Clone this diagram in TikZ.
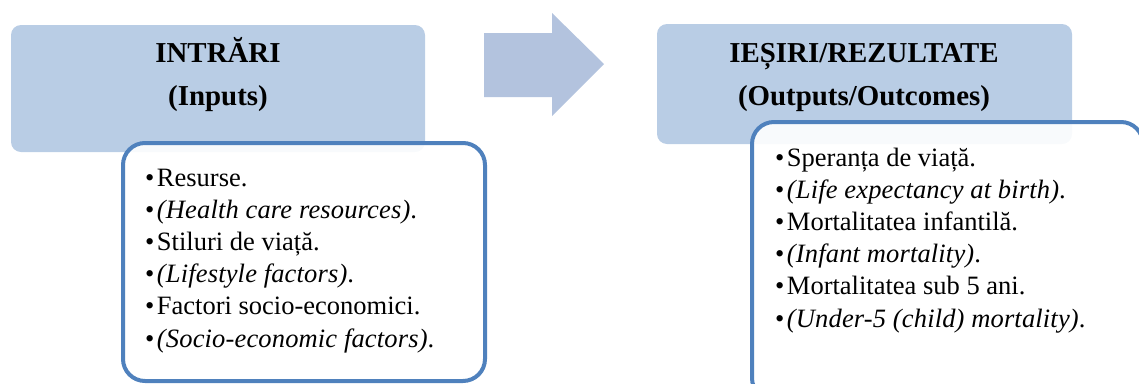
\documentclass[tikz,border=0pt]{standalone}
\usepackage{fontspec}
\setmainfont{Liberation Serif}
\definecolor{hdrfill}{RGB}{185,205,229}
\definecolor{arrowfill}{RGB}{179,195,222}
\definecolor{boxline}{RGB}{79,129,189}
\newcommand{\itsp}[1]{{\itshape\addfontfeature{LetterSpace=0.6}#1}}
\tikzset{
  hdr/.style={fill=hdrfill, draw=none, rounded corners=10bp},
  content/.style={draw=boxline, line width=4bp, fill=white, fill opacity=0.9, rounded corners=22bp},
  htext/.style={anchor=base, inner sep=0pt, font=\fontsize{29}{34}\selectfont\bfseries},
  ltext/.style={anchor=base west, inner sep=0pt, font=\fontsize{26.6}{32}\selectfont},
}
\begin{document}
\begin{tikzpicture}[x=1bp,y=-1bp]
\useasboundingbox (0,0) rectangle (1139,383);
\clip (0,0) rectangle (1139,383);
% left header
\path[hdr] (11,25) rectangle (425,152);
\node[htext] (inT) at (218,62) {INTRĂRI};
\node[htext] (inS) at (218,105) {(Inputs)};
% left content box
\path[content] (123,143) rectangle (485,381);
\foreach \i/\t in {0/Resurse.,1/\itsp{(Health care resources)}.,2/Stiluri de viață.,3/\itsp{(Lifestyle factors)}.,4/Factori socio-economici.,5/\itsp{(Socio-economic factors)}.}{
  \node[ltext] (l\i) at (145,186+32.2*\i) {•\hspace{2.5bp}\t};
}
% arrow
\path[fill=arrowfill] (484,33) -- (552,33) -- (552,13) -- (604,64) -- (552,116) -- (552,97) -- (484,97) -- cycle;
% right header
\path[hdr] (657,24) rectangle (1072,144);
\node[htext] (outT) at (864,62) {IEȘIRI/REZULTATE};
\node[htext] (outS) at (864,105) {(Outputs/Outcomes)};
% right content box
\path[content] (752,122) rectangle (1143,400);
\foreach \i/\t in {0/Speranța de viață.,1/\itsp{(Life expectancy at birth)}.,2/Mortalitatea infantilă.,3/\itsp{(Infant mortality)}.,4/Mortalitatea sub 5 ani.,5/\itsp{(Under-5 (child) mortality)}.}{
  \node[ltext] (r\i) at (775,166+32.2*\i) {•\hspace{2.5bp}\t};
}
\end{tikzpicture}
\end{document}
